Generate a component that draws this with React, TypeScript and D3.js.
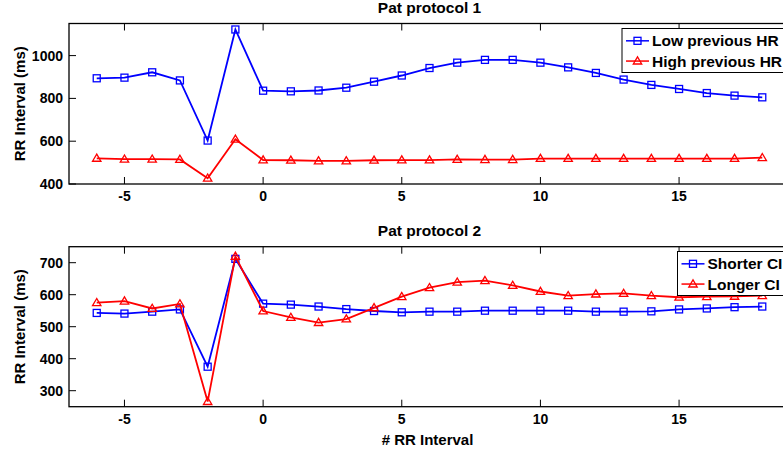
import React from "react";
import * as d3 from "d3";

const width = 783;
const height = 452;

const beats = d3.range(-6, 19);

// protocol 1
const lowPrevHR = [894, 897, 922, 884, 603, 1122, 836, 833, 837, 850, 878, 907, 942, 967, 980, 980, 967, 945, 919, 888, 863, 844, 825, 813, 805];
const highPrevHR = [520, 516, 516, 515, 427, 609, 512, 511, 508, 508, 511, 512, 512, 515, 514, 514, 519, 519, 519, 519, 519, 519, 519, 519, 523];

// protocol 2
const shorterCI = [543, 541, 547, 554, 375, 712, 572, 569, 563, 555, 549, 545, 547, 547, 550, 550, 550, 550, 547, 547, 548, 554, 557, 561, 563];
const longerCI = [575, 580, 557, 571, 266, 720, 549, 529, 513, 524, 559, 594, 622, 639, 644, 629, 610, 597, 602, 604, 597, 592, 594, 595, 597];

const xTicks = [-5, 0, 5, 10, 15];
const yTicks1 = [400, 600, 800, 1000];
const yTicks2 = [300, 400, 500, 600, 700];

const font = "'Liberation Sans', Arial, Helvetica, sans-serif";
const blue = "#0000ff";
const red = "#ff0000";

const x = d3.scaleLinear().domain([-7, 19]).range([69, 790]);

type Series = { name: string; values: number[]; color: string; marker: "square" | "triangle" };

function Marker({ type, cx, cy, color }: { type: string; cx: number; cy: number; color: string }) {
  if (type === "square") {
    return <rect x={cx - 3.5} y={cy - 3.5} width={7} height={7} fill="none" stroke={color} strokeWidth={1.3} />;
  }
  const r = 4.2;
  const pts = [
    [cx, cy - r],
    [cx - r, cy + r * 0.7],
    [cx + r, cy + r * 0.7],
  ];
  return <polygon points={pts.map((p) => p.join(",")).join(" ")} fill="none" stroke={color} strokeWidth={1.3} />;
}

function Panel({
  top,
  bottom,
  domain,
  yTicks,
  title,
  series,
  legendX,
  legendY,
  legendH,
  xLabel,
}: {
  top: number;
  bottom: number;
  domain: [number, number];
  yTicks: number[];
  title: string;
  series: Series[];
  legendX: number;
  legendY: number;
  legendH: number;
  xLabel?: string;
}) {
  const y = d3.scaleLinear().domain(domain).range([bottom, top]);
  const line = d3
    .line<number>()
    .x((d, i) => x(beats[i]))
    .y((d) => y(d));
  const [x0, x1] = x.range();
  const tick = 7;
  const mid = (x0 + x1) / 2;
  return (
    <g>
      <text x={mid} y={top - 10.5} textAnchor="middle" fontFamily={font} fontWeight="bold" fontSize={15.5}>
        {title}
      </text>
      <rect x={x0} y={top} width={x1 - x0} height={bottom - top} fill="none" stroke="#000" strokeWidth={1.3} />
      {xTicks.map((t) => (
        <g key={t}>
          <line x1={x(t)} x2={x(t)} y1={bottom} y2={bottom - tick} stroke="#000" strokeWidth={1} />
          <line x1={x(t)} x2={x(t)} y1={top} y2={top + tick} stroke="#000" strokeWidth={1} />
          <text x={x(t)} y={bottom + 17} textAnchor="middle" fontFamily={font} fontWeight="bold" fontSize={14}>
            {t < 0 ? "-" + Math.abs(t) : t}
          </text>
        </g>
      ))}
      {yTicks.map((t) => (
        <g key={t}>
          <line x1={x0} x2={x0 + tick} y1={y(t)} y2={y(t)} stroke="#000" strokeWidth={1} />
          <line x1={x1} x2={x1 - tick} y1={y(t)} y2={y(t)} stroke="#000" strokeWidth={1} />
          <text x={x0 - 6} y={y(t) + 5} textAnchor="end" fontFamily={font} fontWeight="bold" fontSize={14}>
            {t}
          </text>
        </g>
      ))}
      <text
        transform={`translate(25,${(top + bottom) / 2}) rotate(-90)`}
        textAnchor="middle"
        fontFamily={font}
        fontWeight="bold"
        fontSize={15}
      >
        RR Interval (ms)
      </text>
      {series.map((s) => (
        <g key={s.name}>
          <path d={line(s.values) || ""} fill="none" stroke={s.color} strokeWidth={1.8} />
          {s.values.map((v, i) => (
            <Marker key={i} type={s.marker} cx={x(beats[i])} cy={y(v)} color={s.color} />
          ))}
        </g>
      ))}
      <rect x={legendX} y={legendY} width={300} height={legendH} fill="#fff" stroke="#000" strokeWidth={1} />
      {series.map((s, i) => {
        const ly = legendY + legendH * (0.28 + i * 0.46);
        return (
          <g key={s.name}>
            <line x1={legendX + 4} x2={legendX + 27} y1={ly} y2={ly} stroke={s.color} strokeWidth={1.5} />
            <Marker type={s.marker} cx={legendX + 15.5} cy={ly} color={s.color} />
            <text x={legendX + 30} y={ly + 5.5} fontFamily={font} fontWeight="bold" fontSize={15.5}>
              {s.name}
            </text>
          </g>
        );
      })}
      {xLabel && (
        <text x={mid - 2} y={bottom + 38} textAnchor="middle" fontFamily={font} fontWeight="bold" fontSize={15}>
          {xLabel}
        </text>
      )}
    </g>
  );
}

export default function App() {
  return (
    <div style={{ position: "absolute", left: 0, top: 0 }}>
      <svg width={width} height={height} style={{ display: "block", background: "#fff" }}>
        <Panel
          top={23.5}
          bottom={184}
          domain={[400, 1150]}
          yTicks={yTicks1}
          title="Pat protocol 1"
          series={[
            { name: "Low previous HR", values: lowPrevHR, color: blue, marker: "square" },
            { name: "High previous HR", values: highPrevHR, color: red, marker: "triangle" },
          ]}
          legendX={622}
          legendY={28.5}
          legendH={44}
        />
        <Panel
          top={246.7}
          bottom={406.7}
          domain={[250, 750]}
          yTicks={yTicks2}
          title="Pat protocol 2"
          series={[
            { name: "Shorter CI", values: shorterCI, color: blue, marker: "square" },
            { name: "Longer CI", values: longerCI, color: red, marker: "triangle" },
          ]}
          legendX={677.5}
          legendY={251.5}
          legendH={44}
          xLabel="# RR Interval"
        />
      </svg>
    </div>
  );
}
